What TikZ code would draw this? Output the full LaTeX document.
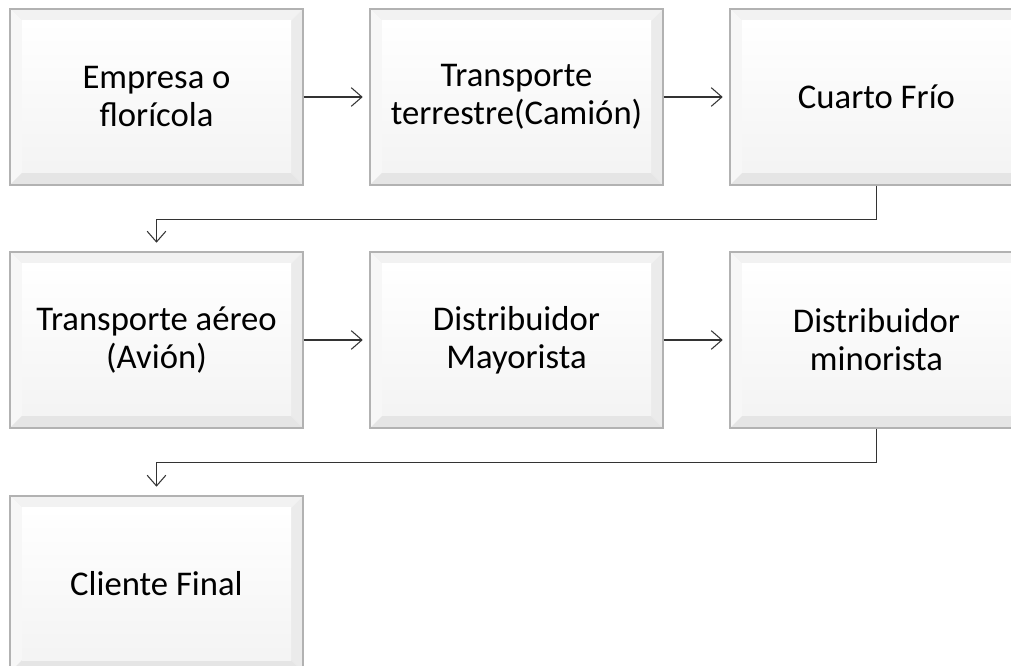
\documentclass[tikz,border=0pt]{standalone}
\usepackage{fontspec}
\setmainfont{Carlito}
\usetikzlibrary{arrows.meta}

\tikzset{
  bevelbox/.style={minimum width=219.75pt, minimum height=132pt, inner sep=0pt,
    draw=gray!60, line width=0.9pt, fill=white, align=center,
    font=\fontsize{26}{28.5}\selectfont,
    path picture={
      \fill[gray!10] (path picture bounding box.north west) -- (path picture bounding box.north east)
        -- ([shift={(-9pt,-9pt)}]path picture bounding box.north east)
        -- ([shift={(9pt,-9pt)}]path picture bounding box.north west) -- cycle;
      \fill[gray!6] (path picture bounding box.north west) -- (path picture bounding box.south west)
        -- ([shift={(9pt,9pt)}]path picture bounding box.south west)
        -- ([shift={(9pt,-9pt)}]path picture bounding box.north west) -- cycle;
      \fill[gray!16] (path picture bounding box.north east) -- (path picture bounding box.south east)
        -- ([shift={(-9pt,9pt)}]path picture bounding box.south east)
        -- ([shift={(-9pt,-9pt)}]path picture bounding box.north east) -- cycle;
      \fill[gray!20] (path picture bounding box.south west) -- (path picture bounding box.south east)
        -- ([shift={(-9pt,9pt)}]path picture bounding box.south east)
        -- ([shift={(9pt,9pt)}]path picture bounding box.south west) -- cycle;
      \shade[top color=white, bottom color=gray!9]
        ([shift={(9pt,-9pt)}]path picture bounding box.north west)
        rectangle ([shift={(-9pt,9pt)}]path picture bounding box.south east);
    }},
  flow/.style={draw=black!80, line width=1.3pt,
    -{Straight Barb[length=8pt,width=14pt,line width=0.8pt]}},
}

\begin{document}
\begin{tikzpicture}[x=0.75pt, y=-0.75pt]
\useasboundingbox (0,0) rectangle (1011,666);
\clip (0,0) rectangle (1011,666);

% first row
\node[bevelbox] (empresa) at (156.5,97) {Empresa o\\florícola};
\node[bevelbox] (camion)  at (516.5,97) {Transporte\\terrestre(Camión)};
\node[bevelbox] (cuarto)  at (876.5,97) {Cuarto Frío};

% second row
\node[bevelbox] (avion)     at (156.5,340) {Transporte aéreo\\(Avión)};
\node[bevelbox] (mayorista) at (516.5,340) {Distribuidor\\Mayorista};
\node[bevelbox] (minorista) at (876.5,340) {Distribuidor\\minorista};

% last row
\node[bevelbox] (cliente) at (156.5,584) {Cliente Final};

\draw[flow, shorten >=5pt] (empresa) -- (camion);
\draw[flow, shorten >=5pt] (camion) -- (cuarto);
\draw[flow, shorten >=5pt] (avion) -- (mayorista);
\draw[flow, shorten >=5pt] (mayorista) -- (minorista);
\draw[flow, shorten >=6.5pt] (cuarto.south) -- ++(0,34) -| (avion.north);
\draw[flow, shorten >=6.5pt] (minorista.south) -- ++(0,34) -| (cliente.north);
\end{tikzpicture}
\end{document}
